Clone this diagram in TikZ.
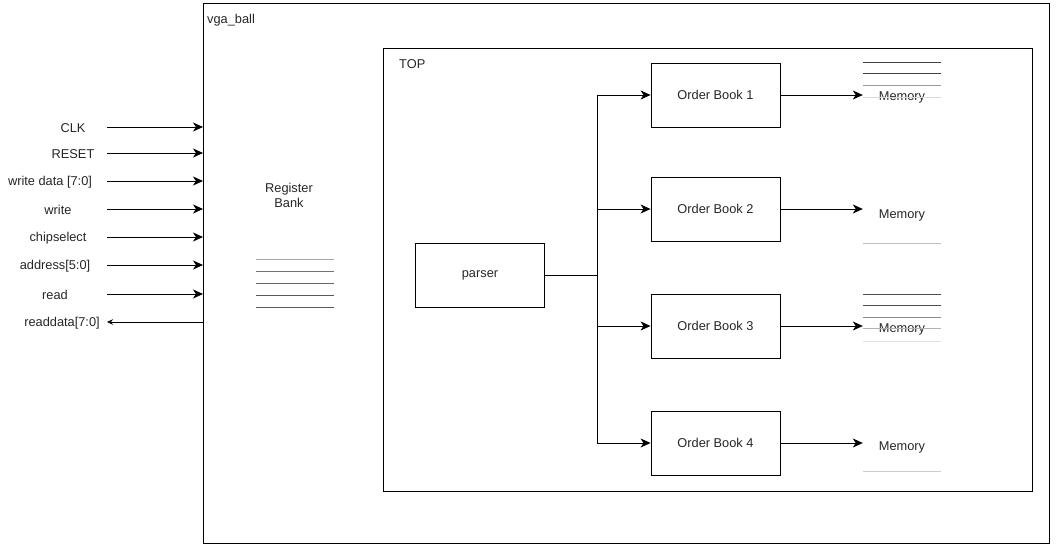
\documentclass[tikz,border=0pt]{standalone}
\usepackage{fontspec}
\setmainfont{Liberation Sans}
\usetikzlibrary{arrows.meta}
\begin{document}
\begin{tikzpicture}[x=1pt,y=-1pt,
  every node/.style={font=\fontsize{12.8}{15}\selectfont, text=black!85},
  box/.style={draw=black, line width=0.9pt, minimum width=129pt, minimum height=64pt, inner sep=0pt},
  arr/.style={line width=0.8pt, -{Stealth[length=10pt,width=9pt,inset=3pt]}},
  mem/.style={minimum width=78pt, inner sep=0pt},
  mline/.style={line width=0.8pt, draw=black!#1},
  lbl/.style={inner sep=0pt}
]
\useasboundingbox (0,0) rectangle (1061,546);
% outer and TOP boxes
\draw[line width=0.9pt] (203,3) rectangle (1049,543);
\node[lbl, anchor=west] (vga) at (207,20) {vga\_ball};
\draw[line width=0.9pt] (383,48) rectangle (1032,491);
\node[lbl, anchor=west] (toplbl) at (399,64) {TOP};

% left signals
\foreach \n/\t/\cx/\y in {clk/CLK/73/128, rst/RESET/73/154, wd/{write data [7:0]}/50/182, wr/write/58/210, cs/chipselect/58/238, addr/{address[5:0]}/55/266, rd/read/55/295}{
  \node[lbl] (\n) at (\cx,\y) {\t};
  \coordinate (\n s) at (107,\y-1);
  \coordinate (\n e) at (203,\y-1);
  \draw[arr] (\n s) -- (\n e);
}
\node[lbl] (rdd) at (62,323) {readdata[7:0]};
\coordinate (rdds) at (203,322);
\coordinate (rdde) at (107,322);
\draw[line width=0.8pt, -{Stealth[length=6pt,width=5.5pt,inset=2pt]}] (rdds) -- (rdde);

% register bank
\node[align=center, inner sep=0pt] (rb) at (289,195) {Register\\Bank};
\draw[mline=35] (256,259) -- (334,259);
\draw[mline=55] (256,271) -- (334,271);
\draw[mline=60] (256,283) -- (334,283);
\draw[mline=65] (256,295) -- (334,295);
\draw[mline=65] (256,307) -- (334,307);

% parser and order books
\node[box] (parser) at (480,275.5) {parser};
\node[box] (ob1) at (715.5,95) {Order Book 1};
\node[box] (ob2) at (715.5,209) {Order Book 2};
\node[box] (ob3) at (715.5,326) {Order Book 3};
\node[box] (ob4) at (715.5,443) {Order Book 4};
\coordinate (split) at (597,275.5);
\draw[line width=0.9pt] (parser.east) -- (split);
\draw[arr] (split) |- (ob1.west);
\draw[arr] (split) |- (ob2.west);
\draw[arr] (split) |- (ob3.west);
\draw[arr] (split) |- (ob4.west);

% memories
\node[mem] (m1) at (902,97) {Memory};
\node[mem] (m2) at (902,215) {Memory};
\node[mem] (m3) at (902,329) {Memory};
\node[mem] (m4) at (902,447) {Memory};
\draw[arr] (ob1.east) -- (ob1.east -| m1.west);
\draw[arr] (ob2.east) -- (ob2.east -| m2.west);
\draw[arr] (ob3.east) -- (ob3.east -| m3.west);
\draw[arr] (ob4.east) -- (ob4.east -| m4.west);

\draw[mline=75] (863,62) -- (941,62);
\draw[mline=75] (863,73) -- (941,73);
\draw[mline=40] (863,85) -- (941,85);
\draw[mline=15] (863,97) -- (941,97);

\draw[mline=25] (863,243) -- (941,243);

\draw[mline=70] (863,294) -- (941,294);
\draw[mline=70] (863,305) -- (941,305);
\draw[mline=45] (863,317) -- (941,317);
\draw[mline=30] (863,328) -- (941,328);
\draw[mline=12] (863,341) -- (941,341);

\draw[mline=20] (863,471) -- (941,471);
\end{tikzpicture}
\end{document}
